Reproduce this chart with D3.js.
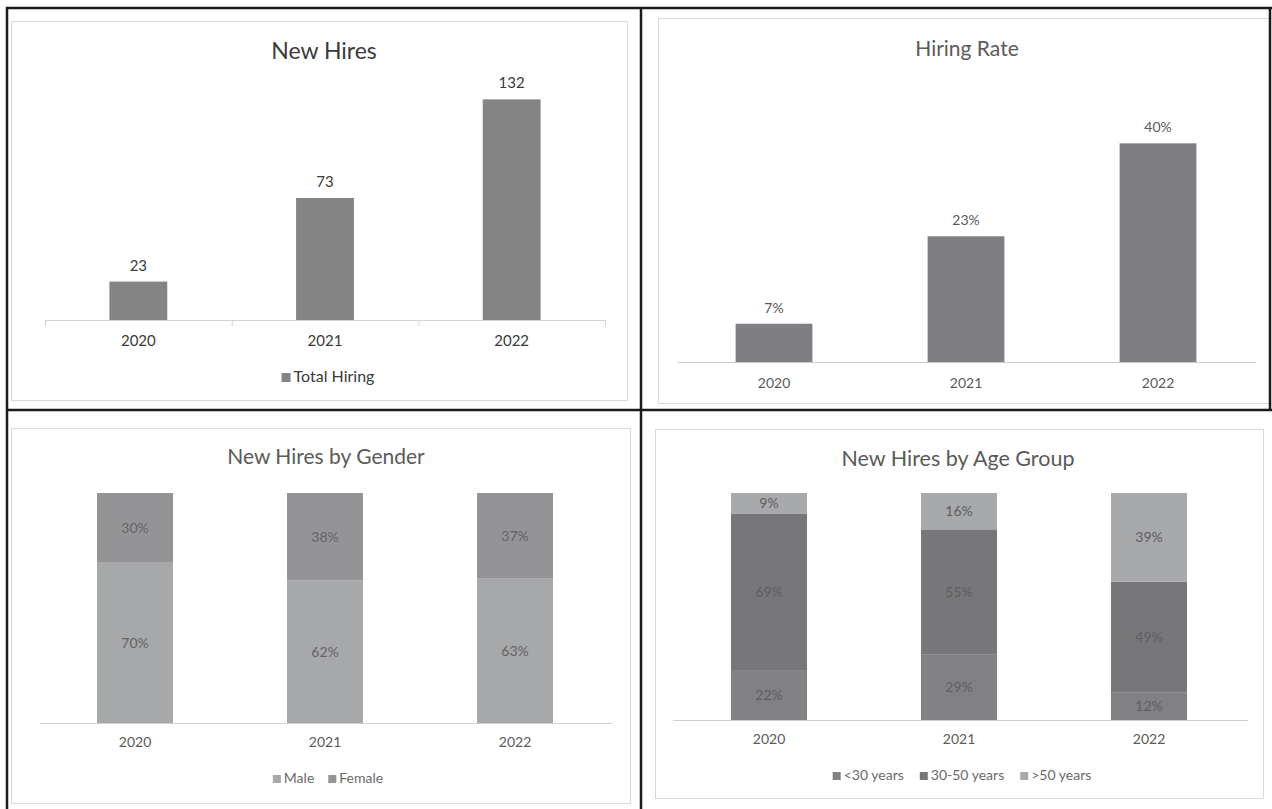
<!DOCTYPE html>
<html>
<head>
<meta charset="utf-8">
<script src="https://cdnjs.cloudflare.com/ajax/libs/d3/7.8.5/d3.min.js"></script>
<style>
  body { margin: 0; background: #fff; }
  text { font-family: Lato, "Open Sans", sans-serif; }
</style>
</head>
<body>
<script>
// data
years = ["2020", "2021", "2022"];
totalHiring = [23, 73, 132];
hiringRate = [7, 23, 40];
genderKeys = ["Male", "Female"];
genderMale = [70, 62, 63];
genderFemale = [30, 38, 37];
ageKeys = ["<30 years", "30-50 years", ">50 years"];
ageUnder30 = [22, 29, 12];
age30to50 = [69, 55, 49];
ageOver50 = [9, 16, 39];

w = 1272;
h = 809;

svg = d3.select("body").append("svg")
  .attr("width", w)
  .attr("height", h);

// light chart boxes
boxes = [[11, 21, 616, 379], [658, 18, 620, 385], [11, 428, 619, 375], [655, 429, 608, 369]];
svg.selectAll("rect.box")
  .data(boxes)
  .enter().append("rect")
    .attr("class", "box")
    .attr("x", d => d[0] + 0.5).attr("y", d => d[1] + 0.5)
    .attr("width", d => d[2]).attr("height", d => d[3])
    .attr("fill", "none").attr("stroke", "#d9d9d9");

// table frame
frame = svg.append("g").attr("stroke", "#1b1b1b").attr("stroke-width", 2.5);
frame.append("line").attr("x1", 6).attr("x2", 1272).attr("y1", 8).attr("y2", 8);
frame.append("line").attr("x1", 7).attr("x2", 7).attr("y1", 7).attr("y2", 809);
frame.append("line").attr("x1", 641).attr("x2", 641).attr("y1", 7).attr("y2", 809);
frame.append("line").attr("x1", 6).attr("x2", 1272).attr("y1", 410).attr("y2", 410);
frame.append("line").attr("x1", 1270).attr("x2", 1270).attr("y1", 7).attr("y2", 411);

function title(txt, x, y, size, color, weight) {
  svg.append("text")
    .attr("x", x).attr("y", y)
    .attr("text-anchor", "middle")
    .attr("font-size", size)
    .attr("font-weight", weight || 400)
    .attr("fill", color)
    .text(txt);
}

function bottomAxis(x, y0, x1, x2, size, color, pad, lineColor) {
  var g = svg.append("g")
    .attr("transform", "translate(0," + y0 + ")")
    .call(d3.axisBottom(x).tickSize(0).tickPadding(pad));
  g.select(".domain").remove();
  g.selectAll("text").attr("font-size", size).attr("fill", color)
    .style("font-family", "Lato, sans-serif");
  svg.append("line")
    .attr("x1", x1).attr("x2", x2)
    .attr("y1", y0 + 0.5).attr("y2", y0 + 0.5)
    .attr("stroke", lineColor).attr("stroke-width", 1.2);
  return g;
}

function legend(keys, colors, cx, y, size, color, gap, sq) {
  sq = sq || 8;
  var g = svg.append("g");
  var items = g.selectAll("g").data(keys).enter().append("g");
  items.append("rect")
    .attr("width", sq).attr("height", sq)
    .attr("y", -sq)
    .attr("fill", (d, i) => colors[i]);
  items.append("text")
    .attr("x", sq + 3).attr("y", 0)
    .attr("font-size", size).attr("fill", color)
    .text(d => d);
  var off = 0;
  items.each(function() {
    d3.select(this).attr("transform", "translate(" + off + ",0)");
    off += this.getBBox().width + gap;
  });
  off -= gap;
  g.attr("transform", "translate(" + (cx - off / 2) + "," + y + ")");
}

// ---- New Hires ----
x1 = d3.scaleBand().domain(years).range([45, 605]).paddingInner(0.69).paddingOuter(0.345);
y1 = d3.scaleLinear().domain([0, 140]).range([320, 86]);
title("New Hires", 324, 59, 23, "#3a3a3a");
svg.append("g").selectAll("rect")
  .data(totalHiring).enter().append("rect")
    .attr("x", (d, i) => x1(years[i]))
    .attr("y", d => y1(d))
    .attr("width", x1.bandwidth())
    .attr("height", d => y1(0) - y1(d))
    .attr("fill", "#848485");
svg.append("g").selectAll("text")
  .data(totalHiring).enter().append("text")
    .attr("x", (d, i) => x1(years[i]) + x1.bandwidth() / 2)
    .attr("y", d => y1(d) - 11)
    .attr("text-anchor", "middle")
    .attr("font-size", 15).attr("fill", "#3a3a3a")
    .text(d => d);
bottomAxis(x1, 320, 45, 605, 15, "#3a3a3a", 15, "#d4d4d4");
svg.append("g").selectAll("line")
  .data(d3.range(years.length + 1)).enter().append("line")
    .attr("x1", d => x1.range()[0] + d * x1.step() + 0.5)
    .attr("x2", d => x1.range()[0] + d * x1.step() + 0.5)
    .attr("y1", 320).attr("y2", 326)
    .attr("stroke", "#d4d4d4");
legend(["Total Hiring"], ["#848485"], 328, 382, 16, "#3a3a3a", 0, 9);

// ---- Hiring Rate ----
x2 = d3.scaleBand().domain(years).range([678, 1254]).paddingInner(0.6).paddingOuter(0.3);
y2 = d3.scaleLinear().domain([0, 45]).range([362, 116]);
title("Hiring Rate", 967, 56, 21, "#5a5a5a");
svg.append("g").selectAll("rect")
  .data(hiringRate).enter().append("rect")
    .attr("x", (d, i) => x2(years[i]))
    .attr("y", d => y2(d))
    .attr("width", x2.bandwidth())
    .attr("height", d => y2(0) - y2(d))
    .attr("fill", "#7f7f83");
svg.append("g").selectAll("text")
  .data(hiringRate).enter().append("text")
    .attr("x", (d, i) => x2(years[i]) + x2.bandwidth() / 2)
    .attr("y", d => y2(d) - 11)
    .attr("text-anchor", "middle")
    .attr("font-size", 14).attr("fill", "#5a5a5a")
    .text(d => d + "%");
bottomAxis(x2, 362, 678, 1256, 14, "#5a5a5a", 16, "#c8c8c8");

// stacked 100% charts
function stacked(rows, keys, colors, x, y, labelColor) {
  var series = d3.stack().keys(keys)(rows);
  var g = svg.append("g");
  var layer = g.selectAll("g").data(series).enter().append("g")
    .attr("fill", (d, i) => colors[i]);
  layer.selectAll("rect").data(d => d).enter().append("rect")
    .attr("x", d => x(d.data.year))
    .attr("y", d => y(d[1]))
    .attr("width", x.bandwidth())
    .attr("height", d => y(d[0]) - y(d[1]));
  var lab = g.selectAll("g.lab").data(series).enter().append("g").attr("class", "lab");
  lab.selectAll("text").data(d => d.map(p => [p, d.key])).enter().append("text")
    .attr("x", d => x(d[0].data.year) + x.bandwidth() / 2)
    .attr("y", d => (y(d[0][0]) + y(d[0][1])) / 2 + 5)
    .attr("text-anchor", "middle")
    .attr("font-size", 14).attr("fill", labelColor)
    .text(d => d[0].data[d[1]] + "%");
}

// ---- New Hires by Gender ----
genderRows = years.map((yr, i) => ({year: yr, Male: genderMale[i], Female: genderFemale[i]}));
genderColors = ["#a7a8aa", "#949497"];
x3 = d3.scaleBand().domain(years).range([40, 610]).paddingInner(0.6).paddingOuter(0.3);
y3 = d3.scaleLinear().domain([0, 100]).range([723, 493]);
title("New Hires by Gender", 326, 464, 21, "#5a5a5a");
stacked(genderRows, genderKeys, genderColors, x3, y3, "#636366");
bottomAxis(x3, 723, 40, 612, 14, "#5a5a5a", 14, "#d0d0d0");
legend(genderKeys, genderColors, 328, 783, 14, "#6a6a6a", 14);

// ---- New Hires by Age Group ----
ageRows = years.map((yr, i) => ({year: yr, "<30 years": ageUnder30[i], "30-50 years": age30to50[i], ">50 years": ageOver50[i]}));
ageColors = ["#818184", "#77777a", "#a8a9ab"];
x4 = d3.scaleBand().domain(years).range([674, 1244]).paddingInner(0.6).paddingOuter(0.3);
y4 = d3.scaleLinear().domain([0, 100]).range([720, 493]);
title("New Hires by Age Group", 958, 466, 21.5, "#5a5a5a");
stacked(ageRows, ageKeys, ageColors, x4, y4, "#5e5e61");
bottomAxis(x4, 720, 673, 1248, 14, "#5a5a5a", 14, "#d0d0d0");
legend(ageKeys, ageColors, 962, 780, 14, "#6a6a6a", 16);
</script>
</body>
</html>
